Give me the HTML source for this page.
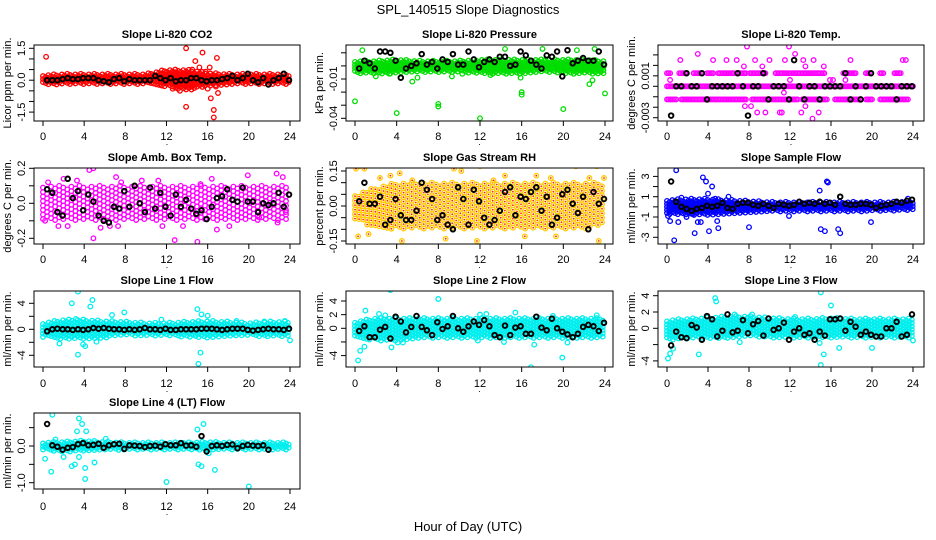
<!DOCTYPE html>
<html><head><meta charset="utf-8"><style>
html,body{margin:0;padding:0;background:#fff}
svg{display:block;font-family:"Liberation Sans",sans-serif}
</style></head><body>
<svg id="c" width="936" height="540" viewBox="0 0 936 540">
<text x="468" y="14" text-anchor="middle" font-size="13">SPL_140515  Slope Diagnostics</text>
<text x="468" y="531" text-anchor="middle" font-size="13">Hour of Day (UTC)</text>
</svg>
<script>
const hourTicks=[0,4,8,12,16,20,24];
// CO2
const co2BandLo=[-0.2,-0.2,-0.2,-0.2,-0.2,-0.2,-0.3,-0.5,-0.3,-0.2,-0.2,-0.2,-0.2];
const co2BandHi=[0.25,0.3,0.3,0.3,0.3,0.3,0.5,0.5,0.35,0.3,0.3,0.3,0.3];
const co2Out=[[0.3,1.1],[13.9,1.5],[15.5,1.3],[14.8,0.9],[16.9,1.05],[13.9,-1.25],[16.6,-1.4],[16.6,-1.75],[16.3,-0.85],[13.3,-0.5],[12.6,-0.4],[16,-0.4],[16.2,0.6],[15.2,0.6],[17,-0.6],[16.8,-0.3],[14.5,0.5],[15.8,0.4]];
const co2Black=[0,0,0,0.05,0.1,0.05,0.05,0.1,0.1,0.1,0,-0.05,-0.1,0.05,0.1,-0.05,0.05,0,0,0,0,0.2,0.1,0,0.1,-0.05,0,0,0.1,0.1,0,-0.05,0,0,0.05,0.1,0.2,0,0.1,0.3,0,-0.1,0.1,-0.2,0,0.1,0.3,0];
// Pressure
const presBandLo=[-0.006,-0.006,-0.006,-0.005,-0.005,-0.005,-0.006,-0.006,-0.006,-0.005,-0.006,-0.006,-0.006];
const presBandHi=[0.004,0.004,0.005,0.004,0.004,0.004,0.005,0.005,0.005,0.005,0.005,0.005,0.004];
const presOut=[[0,-0.027],[4,-0.036],[8,-0.031],[8,-0.029],[12,-0.04],[20,-0.033],[24,-0.021],[16,-0.02],[16,-0.022],[0.7,0.012],[15.9,-0.009],[2,-0.008],[3.3,-0.006],[5.5,-0.012],[6,-0.009],[9.3,-0.008],[13,-0.007],[14.4,0.013],[18,0.013],[21.3,0.012],[23,0.013],[22.5,-0.014],[22.8,-0.011],[10.3,-0.006]];
const presBlack=[-0.002,0.004,0.002,-0.002,0.011,0.011,0.01,0.004,-0.009,-0.002,0,0.002,0.009,0.001,0.003,-0.002,0.005,0.003,0.009,0.001,0.001,0.011,0.005,-0.001,0.003,0.005,0.003,0.007,0.007,0,0.001,0.011,0.008,0.004,0.001,-0.002,0.008,0.007,0.011,-0.008,0.012,0.002,0.004,0.006,0.004,0.004,0.011,0.001];
// Li-820 Temp
const tempSegs=[[0,24,0],[0,0.3,0.00125],[1.2,1.8,0.00125],[2.6,3.2,0.00125],[3.9,4.5,0.00125],[5.0,6.6,0.00125],[6.8,7.7,0.00125],[8.1,9.6,0.00125],[10.6,12,0.00125],[12.2,15.4,0.00125],[17.2,18.4,0.00125],[19.4,19.8,0.00125],[20.8,21.2,0.00125],[22.2,22.9,0.00125],[0,0.9,-0.00125],[1.4,7.8,-0.00125],[8.3,10,-0.00125],[10.2,12.8,-0.00125],[13.2,15.6,-0.00125],[16.4,18.8,-0.00125],[19.4,20,-0.00125],[20.8,23.5,-0.00125]];
const tempOut=[[0.3,0.0006],[1.3,0.0025],[3,0.0031],[4.5,0.0025],[5.8,0.0025],[6.8,0.0025],[7.5,0.0019],[7.8,0.0038],[8.6,0.0025],[9.3,0.0019],[10,0.0025],[11.5,0.0025],[11.9,0.0038],[12.5,0.0031],[13.3,0.0025],[14.3,0.0025],[15.3,0.0019],[16.2,0.0006],[13.5,0.0019],[17.9,0.0025],[23,0.0025],[23.3,0.0025],[7.6,-0.0019],[8.2,-0.0019],[8.8,-0.0025],[9.6,-0.0025],[11,-0.0025],[11.2,-0.0025],[13.1,-0.0025],[13.5,-0.0019],[14.2,-0.0031],[14.8,-0.0025],[11.4,-0.0006],[12,0.0006],[15.9,0.0006],[17.4,0.0006]];
const tempBlack=[-0.0028,0,0,0.00125,0,0,0.00125,-0.00125,0,0,0,0,0,0.00125,0,-0.0028,0,0,0.00125,-0.00125,0,0,0,-0.00125,0.0025,0,-0.00125,0,0,-0.00125,0,0,0,0,0.00125,-0.00125,0,-0.00125,0,0.00125,0,0,0,0,-0.00125,0,0,0];
// Amb box temp
const ambBandLo=[-0.1,-0.1,-0.1,-0.1,-0.1,-0.1,-0.1,-0.1,-0.1,-0.1,-0.1,-0.1,-0.1];
const ambBandHi=[0.1,0.1,0.1,0.1,0.1,0.1,0.1,0.1,0.1,0.1,0.1,0.1,0.1];
const ambOut=[[0.5,0.12],[0.2,-0.1],[1.5,-0.13],[2,0.14],[2.4,-0.13],[3.3,0.13],[4.5,0.19],[4.9,0.2],[4.9,-0.2],[5.6,-0.14],[6.5,-0.13],[7.1,0.15],[7.3,-0.13],[7.6,0.12],[9.6,0.13],[11.2,0.13],[11.6,-0.13],[12.8,-0.21],[13.6,-0.13],[15,-0.22],[15.3,0.11],[16.4,0.14],[16.9,-0.15],[18.1,-0.13],[19.9,0.16],[22.7,0.17],[23.3,0.15],[22.8,-0.11],[23.6,-0.05],[21,-0.08]];
const ambBlack=[0.08,0.06,-0.05,-0.07,0.14,0.03,0.07,-0.04,0.05,0.01,-0.07,-0.1,-0.11,-0.02,-0.03,0.07,-0.02,0.1,0,-0.05,0.09,-0.03,0.06,-0.02,-0.07,0.05,-0.02,0.02,-0.03,-0.06,-0.04,-0.09,-0.02,0.03,0.04,0.08,0.02,0.01,0.09,0.01,0.01,-0.05,0,-0.01,0,0.06,-0.02,0.05];
// RH
const rhBandLo=[-0.06,-0.1,-0.1,-0.1,-0.1,-0.1,-0.1,-0.1,-0.1,-0.1,-0.1,-0.1,-0.08];
const rhBandHi=[0.05,0.08,0.1,0.1,0.1,0.1,0.1,0.1,0.1,0.1,0.1,0.1,0.1];
const rhOut=[[0.1,0.16],[0.4,0.17],[0.9,0.16],[0.3,-0.13],[1.3,-0.12],[2.4,0.12],[3.4,0.13],[4.3,0.14],[4.5,-0.15],[7.9,-0.19],[9.5,0.16],[10.2,0.15],[11.7,-0.15],[12,0.17],[13.3,0.11],[14.4,0.13],[16.3,-0.13],[17.4,0.13],[18.8,0.12],[19.3,-0.13],[20.7,-0.19],[21.2,0.17],[22.5,0.12],[23.2,0.17],[23.4,-0.15],[23.9,0.12],[5.5,0.11],[8.7,-0.14]];
const rhBlack=[0.02,0.1,0.01,0.01,0.04,-0.08,-0.06,0.03,-0.04,-0.06,-0.06,-0.02,0.1,0.07,0.03,-0.06,-0.04,-0.08,-0.1,0.08,0.03,-0.08,0.07,0.02,-0.05,-0.08,-0.06,-0.02,0.06,0.08,-0.04,0.04,0.03,0.06,0.08,-0.02,0.04,-0.08,-0.05,0.05,0.07,0.01,-0.03,0.04,-0.1,0.06,0.01,0.03];
// Sample flow
const sfBandLo=[-0.7,-0.8,-0.8,-0.7,-0.6,-0.5,-0.5,-0.5,-0.5,-0.5,-0.4,-0.4,-0.3];
const sfBandHi=[0.7,0.8,0.8,0.7,0.6,0.5,0.5,0.5,0.5,0.5,0.5,0.5,0.6];
const sfOut=[[0.1,-0.9],[0.3,-1.4],[0.7,-3.3],[0.9,3.6],[1.1,-1.5],[1.4,0.9],[1.9,-1],[2.5,-0.7],[2.7,-2.6],[3,-1.5],[3.3,-1.5],[3.5,2.9],[3.8,2.5],[4,1.3],[4.1,-2.4],[4.4,2],[4.7,0.8],[4.9,-1.4],[5,-2.1],[6,1],[8,-2],[14.9,1.6],[15,-2.2],[15.4,-2.4],[15.6,2.5],[15.7,2.4],[16.7,-2.2],[16.9,-2.6],[19.9,-1.5],[11.9,-0.9],[23.5,0.8]];
const sfBlack=[2.5,0.5,0,-0.2,-0.4,-0.2,-0.1,0.1,0,0.1,0.4,-0.1,-0.2,0.3,0.4,0.4,0.2,0.1,0.3,0.1,-0.1,0.3,0.2,0.1,0.2,0.5,0.3,0.4,0.3,0.5,0.3,0.4,0.2,1.0,0.3,0.2,0.2,0.3,0.3,0.2,-0.1,0.1,0.2,0.3,0.5,0.4,0.6,0.7];
// Line 1
const l1BandLo=[-1.2,-1.5,-1.5,-1.3,-1,-1,-1,-1.2,-1.3,-1.2,-1,-1.2,-1];
const l1BandHi=[1,1.5,1.5,1.3,1.2,1,1,1.2,1.3,1.2,1,1.2,1.2];
const l1Out=[[3.4,5.8],[2.8,4],[4.8,4.5],[4.6,3.5],[3.4,-3.9],[4.1,-2.6],[1.6,-2.2],[5.2,-1.9],[6.7,2.2],[7.9,2.6],[15,3.1],[15.4,2.3],[16,2.1],[15.3,-3.6],[15.1,-5.3],[24,-1.7],[18.8,1.3],[3.9,-2.3],[3.2,1.6],[11.5,1.5],[21.5,1.2],[23.5,1.3]];
const l1Black=[-0.3,0,0.1,0,0,-0.1,0,-0.1,0,0.2,0.1,0.2,0.1,0,0,-0.1,0,-0.1,0,0.2,0,0,-0.1,0.1,-0.1,-0.1,0,0,0,0,0.1,0.1,0.1,0,-0.1,0,0.1,0.1,0.1,-0.1,-0.2,-0.1,0,0.1,0,0,-0.1,0.1];
// Line 2
const l2BandLo=[-1.5,-1.8,-1.8,-1.5,-1.5,-1.5,-1.5,-1.5,-1.5,-1.5,-1.5,-1.5,-1.5];
const l2BandHi=[1,1.5,1.5,1.5,1.5,1.5,1.5,1.5,1.5,1.5,1.5,1.5,1.5];
const l2Out=[[0.3,-4.7],[0.5,-3.3],[0.9,-2.7],[1,2.6],[2.3,2.1],[2.9,1.9],[3.4,5.6],[3.5,-2.8],[4.1,-2.1],[4.6,-2.1],[8,4.3],[11.8,-1.8],[14.3,-2],[15.4,2.3],[16.9,-5.7],[17.2,-2.4],[19.9,-4.3],[20.4,-2.1],[12,2],[12.6,2.1],[19,1.8],[23.2,1.9]];
const l2Black=[-0.4,0.3,-1.3,-1.3,-0.2,0.2,-1.5,1.7,1,-0.6,0.2,1.8,0.2,-0.3,-1,0.9,-0.1,0.3,1.8,0,-0.5,0.3,1,0.5,1.2,0.3,-1,-1.3,0.4,-1,0.1,0.3,-0.8,-0.8,1.7,0.1,-0.3,1.4,0,-0.5,-0.9,-1.3,-0.8,0.2,0.5,0.3,-0.4,0.8];
// Line 3
const l3BandLo=[-1.5,-1.3,-1.2,-1.2,-1,-1.2,-1.2,-1.2,-1.2,-1.2,-1.2,-1.2,-1.2];
const l3BandHi=[1,1.2,1.3,1.5,1.5,1.3,1.2,1.2,1.3,1.2,1.2,1.2,1.2];
const l3Out=[[0.1,-3.7],[0.3,-3.1],[0.6,-2.5],[3.1,-3.2],[4.7,3.7],[4.8,3.3],[15,4.4],[15,-4.5],[15.3,-3.2],[16,2.8],[16.8,-2.4],[20,-2.4],[14.9,-1.8],[6.6,1.7],[8.3,1.7],[12.5,1.4],[19.9,0.9],[24,-1.5],[7.1,-1.7]];
const l3Black=[-2.1,-0.4,-1.1,-1.2,0.4,0.1,-1.4,1.5,1.1,-1,-0.3,1.7,-0.5,-0.3,1,-0.6,0.5,0.9,-0.9,1.2,-0.2,0,0.7,-1.4,-0.4,0,-0.8,-0.6,-1.4,-0.4,-0.9,1.1,1.1,1.2,-0.3,0.8,0.2,-0.8,-0.4,-0.8,-1,-1,0,0,0.8,-1,-0.8,1.7];
// Line 4
const l4BandLo=[-0.12,-0.15,-0.15,-0.12,-0.1,-0.1,-0.1,-0.1,-0.12,-0.1,-0.1,-0.1,-0.1];
const l4BandHi=[0.1,0.12,0.15,0.12,0.1,0.1,0.1,0.1,0.12,0.1,0.1,0.1,0.1];
const l4Out=[[0.2,-0.35],[0.9,0.85],[0.8,-0.7],[3.3,0.4],[3.5,0.75],[3.8,0.6],[4.2,0.4],[2.8,-0.55],[3.1,-0.5],[3.5,-0.3],[4.1,-0.9],[4.1,-0.6],[5,-0.45],[2,-0.3],[12,-0.98],[15,0.45],[15.6,0.6],[15.1,-0.5],[15.4,-0.55],[16.7,-0.65],[20,-1.1],[16.1,-0.2],[1.2,0.18],[6.1,0.2]];
const l4Black=[0.6,0.02,-0.02,-0.1,-0.05,-0.03,0.05,0.08,0.02,0.03,0.06,-0.05,0.02,0.05,0.06,-0.08,0.02,0.01,0,-0.03,0,0.01,-0.02,0.05,0.02,0.02,0.08,0.01,0.02,-0.02,0.27,-0.15,0,0.02,0,0.03,0.04,-0.06,0,0.03,0.01,0,0.02,-0.1];

const cols=[[34,300,43,290],[346,613,355,605],[658,924,667,913]];
const rows=[[45,121,38,136],[168,244,161,259],[291,367,284,383],[413,489,406,506]];
const panels=[
 {n:'co2',t:'Slope Li-820 CO2',yl:'Licor ppm per min.',c:0,r:0,a:[0,80.2,1.5,48.3],ticks:[-1.5,-1,-0.5,0,0.5,1,1.5],labs:[[1.5,'1.5'],[0,'0.0'],[-1.5,'-1.5']],col:'#ff0000',lo:co2BandLo,hi:co2BandHi,out:co2Out,blk:co2Black,sp:3},
 {n:'pressure',t:'Slope Li-820 Pressure',yl:'kPa per min.',c:1,r:0,a:[-0.01,79,-0.04,118.3],ticks:[0.01,0,-0.01,-0.02,-0.03,-0.04],labs:[[-0.01,'-0.01'],[-0.04,'-0.04']],col:'#00dd00',lo:presBandLo,hi:presBandHi,out:presOut,blk:presBlack,sp:3},
 {n:'li820-temp',t:'Slope Li-820 Temp.',yl:'degrees C per min.',c:2,r:0,a:[0,86.3,-0.003,117.7],ticks:[0.003,0.002,0.001,0,-0.001,-0.002,-0.003],labs:[[0.001,'0.001'],[-0.003,'-0.003']],col:'#ff00ff',segs:tempSegs,out:tempOut,blk:tempBlack},
 {n:'amb-box-temp',t:'Slope Amb. Box Temp.',yl:'degrees C per min.',c:0,r:1,a:[0,203.3,0.2,168.3],ticks:[-0.2,-0.1,0,0.1,0.2],labs:[[0.2,'0.2'],[0,'0.0'],[-0.2,'-0.2']],col:'#ff00ff',lo:ambBandLo,hi:ambBandHi,out:ambOut,blk:ambBlack,sp:4.5},
 {n:'gas-stream-rh',t:'Slope Gas Stream RH',yl:'percent per min.',c:1,r:1,a:[0,206,0.15,171],ticks:[-0.15,-0.1,-0.05,0,0.05,0.1,0.15],labs:[[0.15,'0.15'],[0,'0.00'],[-0.15,'-0.15']],col:'#ffcc00',dot:'#ff2200',lo:rhBandLo,hi:rhBandHi,out:rhOut,blk:rhBlack,sp:4.5},
 {n:'sample-flow',t:'Slope Sample Flow',yl:'ml/min per min.',c:2,r:1,a:[1,196.7,-3,237.3],ticks:[-3,-2,-1,0,1,2,3],labs:[[3,'3'],[1,'1'],[-1,'-1'],[-3,'-3']],col:'#0000ff',lo:sfBandLo,hi:sfBandHi,out:sfOut,blk:sfBlack,sp:3},
 {n:'line1-flow',t:'Slope Line 1 Flow',yl:'ml/min per min.',c:0,r:2,a:[0,329.3,4,303.3],ticks:[-4,-2,0,2,4],labs:[[4,'4'],[0,'0'],[-4,'-4']],col:'#00eeee',lo:l1BandLo,hi:l1BandHi,out:l1Out,blk:l1Black,sp:3.2},
 {n:'line2-flow',t:'Slope Line 2 Flow',yl:'ml/min per min.',c:1,r:2,a:[0,328.3,4,301],ticks:[-4,-2,0,2,4],labs:[[4,'4'],[2,'2'],[0,'0'],[-4,'-4']],col:'#00eeee',lo:l2BandLo,hi:l2BandHi,out:l2Out,blk:l2Black,sp:3.2},
 {n:'line3-flow',t:'Slope Line 3 Flow',yl:'ml/min per min.',c:2,r:2,a:[0,328.3,4,295.7],ticks:[-4,-2,0,2,4],labs:[[4,'4'],[2,'2'],[0,'0'],[-4,'-4']],col:'#00eeee',lo:l3BandLo,hi:l3BandHi,out:l3Out,blk:l3Black,sp:3.2},
 {n:'line4-flow',t:'Slope Line 4 (LT) Flow',yl:'ml/min per min.',c:0,r:3,a:[0,446,-1,482.7],ticks:[-1,-0.5,0,0.5],labs:[[0,'0.0'],[-1,'-1.0']],col:'#00eeee',lo:l4BandLo,hi:l4BandHi,out:l4Out,blk:l4Black,sp:3}
];
const NS='http://www.w3.org/2000/svg';
const svg=document.getElementById('c');
function mk(tag,attrs,parent,txt){const e=document.createElementNS(NS,tag);for(const k in attrs)e.setAttribute(k,attrs[k]);if(txt!==undefined)e.textContent=txt;parent.appendChild(e);return e;}
panels.forEach(p=>{
 const [L,R,x0,x24]=cols[p.c];const [T,B,ty,xly]=rows[p.r];
 const xs=h=>x0+(x24-x0)*h/24;
 const ys=v=>p.a[1]+(v-p.a[0])*(p.a[3]-p.a[1])/(p.a[2]-p.a[0]);
 const g=mk('g',{},svg);
 
 
 const cp=mk('clipPath',{id:'cp'+p.n},g);mk('rect',{x:L,y:T,width:R-L,height:B-T},cp);
 const pts=mk('g',{'clip-path':'url(#cp'+p.n+')'},g);
 
 
 function pt(h,v,color,extra,sw){
  const c=mk('circle',{cx:xs(h).toFixed(1),cy:ys(v).toFixed(1),r:2.3,fill:'none',stroke:color,'stroke-width':sw||1.3},pts);
  if(extra)mk('circle',{cx:xs(h).toFixed(1),cy:ys(v).toFixed(1),r:0.9,fill:extra},pts);
  return c;
 }
 if(p.lo){
  const pxStep=1/((x24-x0)/24);
  const sp=p.sp||3.5;
  let row=0;
  for(let h=0;h<=24;h+=pxStep*sp*0.9){
   const i=Math.min(11,Math.floor(h/2)),f=(h-i*2)/2;
   const lo=p.lo[i]+(p.lo[i+1]-p.lo[i])*f,hi=p.hi[i]+(p.hi[i+1]-p.hi[i])*f;
   const yl=ys(lo),yh=ys(hi);
   row++;
   for(let y=yh+((row*7)%5)*sp/5;y<=yl;y+=sp){
    const v=p.a[0]+(y-p.a[1])*(p.a[2]-p.a[0])/(p.a[3]-p.a[1]);
    pt(h,v,p.col,p.dot);
   }
  }
 }
 if(p.segs){p.segs.forEach(s=>{for(let h=s[0];h<=s[1]+0.001;h+=0.15)pt(h,s[2],p.col);});}
 p.out.forEach(o=>pt(o[0],o[1],p.col,p.dot));
 p.blk.forEach((v,i)=>pt(0.5*(i+1)-0.1,v,'#000',null,1.9));
 const box=mk('rect',{x:L,y:T,width:R-L,height:B-T,fill:'none',stroke:'#000','stroke-width':1},g);
 
 
 hourTicks.forEach(h=>{mk('line',{x1:xs(h),x2:xs(h),y1:B,y2:B+5,stroke:'#000'},g);
  const t=mk('text',{x:xs(h),y:xly+4,'text-anchor':'middle','font-size':11},g,String(h));
  
  });
 mk('text',{x:(L+R)/2,y:xly+9,'text-anchor':'middle','font-size':9},g,'.');
 p.ticks.forEach(v=>mk('line',{x1:L-5,x2:L,y1:ys(v),y2:ys(v),stroke:'#000'},g));
 p.labs.forEach(l=>{const y=ys(l[0]),x=L-9;
  const t=mk('text',{x:x,y:y,'text-anchor':'middle','font-size':11,transform:`rotate(-90 ${x} ${y})`},g,l[1]);
  
  });
 const yx=L-23,yy=(T+B)/2;
 const ylab=mk('text',{x:yx,y:yy,'text-anchor':'middle','font-size':11,transform:`rotate(-90 ${yx} ${yy})`},g,p.yl);
 
 
 const tt=mk('text',{x:(L+R)/2,y:ty,'text-anchor':'middle','font-size':11,'font-weight':'bold'},g,p.t);
 
 
});
</script>
</body></html>
